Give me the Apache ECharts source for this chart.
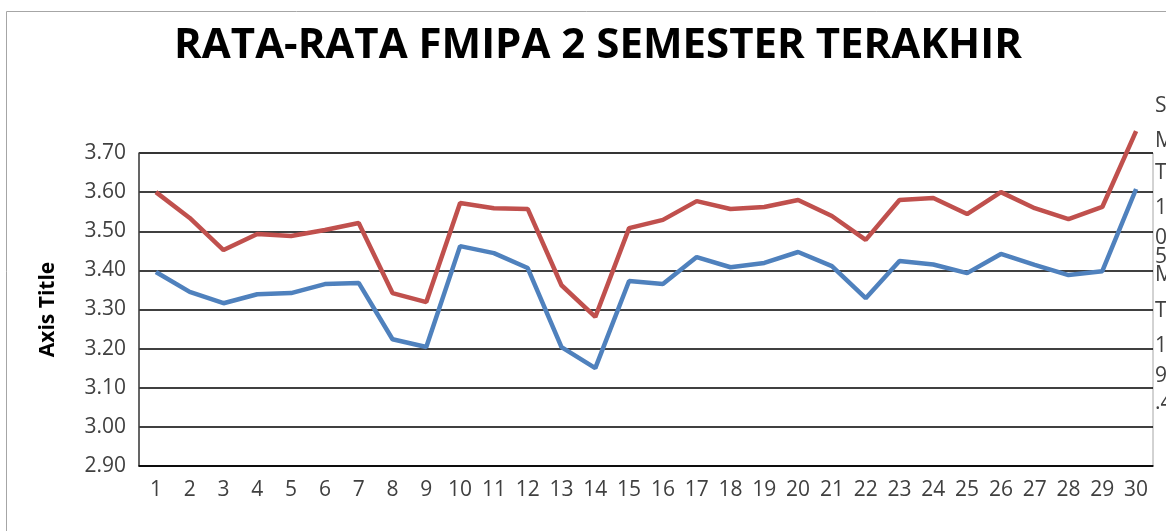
<!DOCTYPE html>
<html>
<head>
<meta charset="utf-8">
<script src="https://cdn.jsdelivr.net/npm/echarts@6/dist/echarts.min.js"></script>
<style>
  html, body { margin: 0; padding: 0; background: #fff; }
  #chart { width: 1166px; height: 531px; }
</style>
</head>
<body>
<div id="chart"></div>
<script>
// data
const semesters = ["1","2","3","4","5","6","7","8","9","10","11","12","13","14","15",
  "16","17","18","19","20","21","22","23","24","25","26","27","28","29","30"];
const seriesRed = [3.60, 3.534, 3.452, 3.493, 3.488, 3.503, 3.521, 3.342, 3.319, 3.572,
  3.559, 3.557, 3.362, 3.281, 3.508, 3.529, 3.577, 3.557, 3.562, 3.580,
  3.539, 3.478, 3.580, 3.585, 3.544, 3.600, 3.559, 3.531, 3.562, 3.756];
const seriesBlue = [3.396, 3.345, 3.316, 3.339, 3.342, 3.365, 3.368, 3.224, 3.204, 3.462,
  3.444, 3.406, 3.204, 3.150, 3.373, 3.365, 3.434, 3.408, 3.419, 3.447,
  3.411, 3.329, 3.424, 3.415, 3.393, 3.442, 3.414, 3.388, 3.398, 3.608];
// cut-off legend text at the right edge
const edgeTexts = ["S", "M", "T", "1", "0,", "5", "M", "T", "1(", "9,", ".4"];
const edgeY = [108, 143, 175, 210, 240, 259, 277, 313, 348, 378, 405];

const chart = echarts.init(document.getElementById("chart"));

const edgeGraphics = edgeTexts.map((t, i) => ({
  type: "text",
  left: 1155,
  top: edgeY[i] - 12,
  style: { text: t, font: "21px 'Open Sans'", fill: "#404040" }
}));

const option = {
  animation: false,
  backgroundColor: "#fff",
  title: {
    text: "RATA-RATA FMIPA 2 SEMESTER TERAKHIR",
    left: 593,
    textAlign: "center",
    top: 20,
    textStyle: { fontFamily: "Open Sans", fontWeight: "bold", fontSize: 42, color: "#000" }
  },
  grid: {
    left: 139, right: 13, top: 153, bottom: 65,
    show: true, borderColor: "#a6a6a6", borderWidth: 1
  },
  xAxis: {
    type: "category",
    data: semesters,
    boundaryGap: true,
    axisLine: { lineStyle: { color: "#000", width: 1.5 } },
    axisTick: { show: false },
    axisLabel: { color: "#404040", fontSize: 21, fontFamily: "Open Sans", margin: 14 }
  },
  yAxis: {
    type: "value",
    min: 2.9, max: 3.7, interval: 0.1,
    name: "Axis Title",
    nameLocation: "middle",
    nameGap: 80,
    nameTextStyle: { fontFamily: "Open Sans", fontWeight: "bold", fontSize: 21, color: "#000" },
    axisLine: { show: true, lineStyle: { color: "#404040", width: 1.5 } },
    axisTick: { show: false },
    splitLine: { lineStyle: { color: "#000", width: 1.5 } },
    axisLabel: {
      color: "#404040", fontSize: 21, fontFamily: "Open Sans", margin: 13,
      formatter: v => v.toFixed(2)
    }
  },
  series: [
    {
      type: "line", data: seriesBlue, showSymbol: false, clip: false,
      lineStyle: { color: "#4F81BD", width: 4.5 }, itemStyle: { color: "#4F81BD" }
    },
    {
      type: "line", data: seriesRed, showSymbol: false, clip: false,
      lineStyle: { color: "#C0504D", width: 4.5 }, itemStyle: { color: "#C0504D" }
    }
  ],
  graphic: [
    {
      type: "rect",
      shape: { x: 6.5, y: 11.5, width: 1200, height: 600 },
      style: { fill: null, stroke: "#a6a6a6", lineWidth: 1 },
      silent: true
    }
  ].concat(edgeGraphics)
};

chart.setOption(option);
</script>
</body>
</html>
